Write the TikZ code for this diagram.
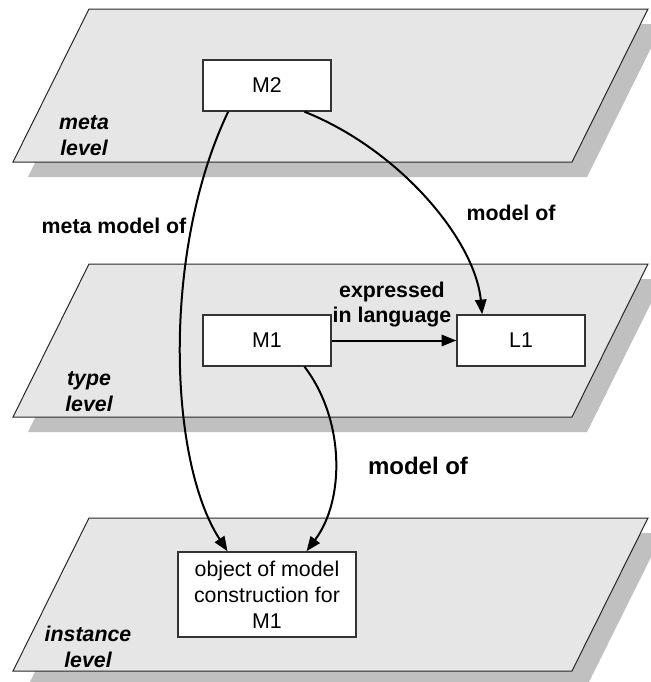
\documentclass[tikz,border=0pt]{standalone}
\usepackage{fontspec}
\setmainfont{Liberation Sans}
\usetikzlibrary{arrows.meta,calc}

\tikzset{
  box/.style={draw={rgb, 255:red, 51; green, 51; blue, 51 }, fill=white, line width=1.1pt, inner sep=0pt, font=\fontsize{16}{19}\selectfont},
  levellbl/.style={font=\bfseries\itshape\fontsize{16}{19.5}\selectfont, align=center},
  edgelbl/.style={font=\bfseries\fontsize{16}{18.75}\selectfont, align=center},
  conn/.style={line width=1.5pt, black, -{Triangle[length=11pt, width=8.5pt]}}
}

\begin{document}
\begin{tikzpicture}[x=0.75pt,y=0.75pt,yscale=-1,xscale=1]
\useasboundingbox (0,0) rectangle (650,682);

% the three planes, each with its shadow
\foreach \t in {9,264,518} {
  \fill [color={rgb, 255:red, 192; green, 192; blue, 192 }] (104, \t+15) -- (663, \t+15) -- (587, \t+168) -- (28, \t+168) -- cycle;
  \draw [fill={rgb, 255:red, 230; green, 230; blue, 230 }, draw={rgb, 255:red, 40; green, 40; blue, 40 }, line width=0.75pt] (89, \t) -- (648, \t) -- (572, \t+153) -- (13, \t+153) -- cycle;
}

% level names
\node [levellbl] (metalvl) at (84, 136) {meta\\level};
\node [levellbl] (typelvl) at (89, 392) {type\\level};
\node [levellbl] (instlvl) at (88, 647) {instance\\level};

% boxes
\node [box, minimum width=96pt, minimum height=38.25pt] (M2) at (267, 85.5) {M2};
\node [box, minimum width=96pt, minimum height=38.25pt] (M1) at (267, 340.5) {M1};
\node [box, minimum width=96pt, minimum height=38.25pt] (L1) at (521, 340.5) {L1};
\node [box, minimum width=133.5pt, minimum height=63.75pt, align=center, font=\fontsize{16}{19.5}\selectfont] (obj) at (267, 594.5) {object of model\\construction for\\M1};

% connectors
\draw [conn] ($(M2.south west)!0.2!(M2.south east)$) .. controls (162, 250) and (168, 460) .. ($(obj.north west)!0.28!(obj.north east)$);
\draw [conn] ($(M2.south west)!0.79!(M2.south east)$) .. controls (400, 150) and (475, 240) .. ($(L1.north west)!0.2!(L1.north east)$);
\draw [conn] (M1.east) -- (L1.west);
\draw [conn] ($(M1.south west)!0.79!(M1.south east)$) .. controls (345, 420) and (345, 500) .. ($(obj.north west)!0.72!(obj.north east)$);

% connector labels
\node [edgelbl] (metamodelof) at (114, 226) {meta model of};
\node [edgelbl] (modelofL) at (511, 213) {model of};
\node [edgelbl] (expressed) at (392, 305) {expressed\\in language};
\node [edgelbl, font=\bfseries\fontsize{18}{21}\selectfont] (modelofO) at (418, 466) {model of};
\end{tikzpicture}
\end{document}
